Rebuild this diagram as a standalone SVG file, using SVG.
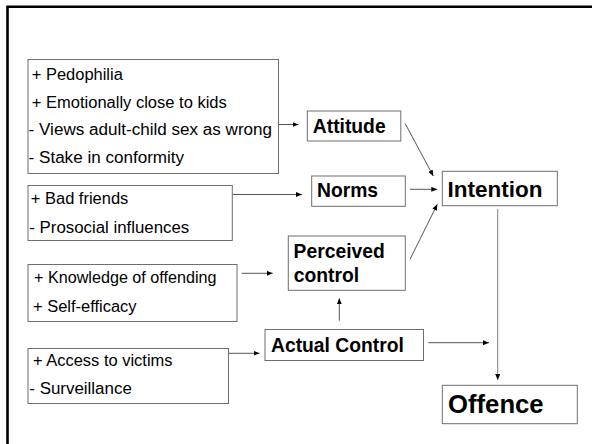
<svg xmlns="http://www.w3.org/2000/svg" width="592" height="444" viewBox="0 0 592 444">
<style>
.box{fill:#fff;stroke:#6e6e6e;stroke-width:1}
.t{font-family:"Liberation Sans",Arial,sans-serif;font-size:16px;fill:#000}
.b{font-family:"Liberation Sans",Arial,sans-serif;font-weight:bold;font-size:19.3px;fill:#000}
.c{fill:none;stroke:#555;stroke-width:1;marker-end:url(#ah)}
</style>
<defs>
<marker id="ah" markerUnits="userSpaceOnUse" markerWidth="6" markerHeight="5" refX="6" refY="2.5" orient="auto">
<path d="M0,0 L6,2.5 L0,5 z" fill="#000"/>
</marker>
</defs>
<rect width="592" height="444" fill="#fff"/>
<path d="M7.5,444 V6.8 H592" fill="none" stroke="#000" stroke-width="2.6"/>

<g id="connectors">
<path class="c" d="M279,124.5 H298.5"/>
<path class="c" d="M232.3,194.5 H302"/>
<path class="c" d="M241.7,273.3 H272.7"/>
<path class="c" d="M228.5,353.3 H259.5"/>
<path class="c" d="M405,123.3 L433.3,176"/>
<path class="c" d="M410,189.3 H437.3"/>
<path class="c" d="M410,259.3 L437.3,204.3"/>
<path class="c" d="M339.3,320.7 V298.3"/>
<path class="c" d="M428.3,342.7 H489"/>
<path class="c" d="M497.7,209 V380" style="stroke:#808080"/>
</g>

<g id="attitude-factors">
<rect class="box" x="28" y="59.5" width="250.5" height="114"/>
<text class="t" x="31.8" y="80" textLength="91" lengthAdjust="spacingAndGlyphs">+ Pedophilia</text>
<text class="t" x="31.8" y="107.7" textLength="195" lengthAdjust="spacingAndGlyphs">+ Emotionally close to kids</text>
<text class="t" x="28.6" y="135" textLength="243.5" lengthAdjust="spacingAndGlyphs">- Views adult-child sex as wrong</text>
<text class="t" x="28.6" y="162.7" textLength="155.5" lengthAdjust="spacingAndGlyphs">- Stake in conformity</text>
</g>

<g id="norm-factors">
<rect class="box" x="28" y="185.5" width="204.3" height="55"/>
<text class="t" x="30.8" y="204" textLength="97.5" lengthAdjust="spacingAndGlyphs">+ Bad friends</text>
<text class="t" x="29.3" y="233.3" textLength="160" lengthAdjust="spacingAndGlyphs">- Prosocial influences</text>
</g>

<g id="control-factors">
<rect class="box" x="28" y="264.5" width="209" height="57"/>
<text class="t" x="34" y="283.3" textLength="182.5" lengthAdjust="spacingAndGlyphs">+ Knowledge of offending</text>
<text class="t" x="33" y="311.7" textLength="103.5" lengthAdjust="spacingAndGlyphs">+ Self-efficacy</text>
</g>

<g id="actual-factors">
<rect class="box" x="28" y="348.5" width="200.5" height="55"/>
<text class="t" x="33" y="366" textLength="139.5" lengthAdjust="spacingAndGlyphs">+ Access to victims</text>
<text class="t" x="29.3" y="394" textLength="102.5" lengthAdjust="spacingAndGlyphs">- Surveillance</text>
</g>

<g id="attitude">
<rect class="box" x="307.3" y="111" width="93.5" height="30"/>
<text class="b" x="312.8" y="132.7">Attitude</text>
</g>

<g id="norms">
<rect class="box" x="311.7" y="176" width="93.6" height="30.3"/>
<text class="b" x="317" y="197.3">Norms</text>
</g>

<g id="perceived-control">
<rect class="box" x="288.3" y="236" width="117" height="54.3"/>
<text class="b" x="293.6" y="258.3">Perceived</text>
<text class="b" x="293.8" y="281.7">control</text>
</g>

<g id="actual-control">
<rect class="box" x="265" y="329.5" width="158.5" height="31"/>
<text class="b" x="271" y="352.3">Actual Control</text>
</g>

<g id="intention">
<rect class="box" x="442.3" y="171.3" width="115" height="34.4"/>
<text class="b" x="447.6" y="196.7" style="font-size:22.5px">Intention</text>
</g>

<g id="offence">
<rect class="box" x="442.3" y="385.3" width="135" height="38.4"/>
<text class="b" x="448" y="412.7" style="font-size:25.7px">Offence</text>
</g>
</svg>
